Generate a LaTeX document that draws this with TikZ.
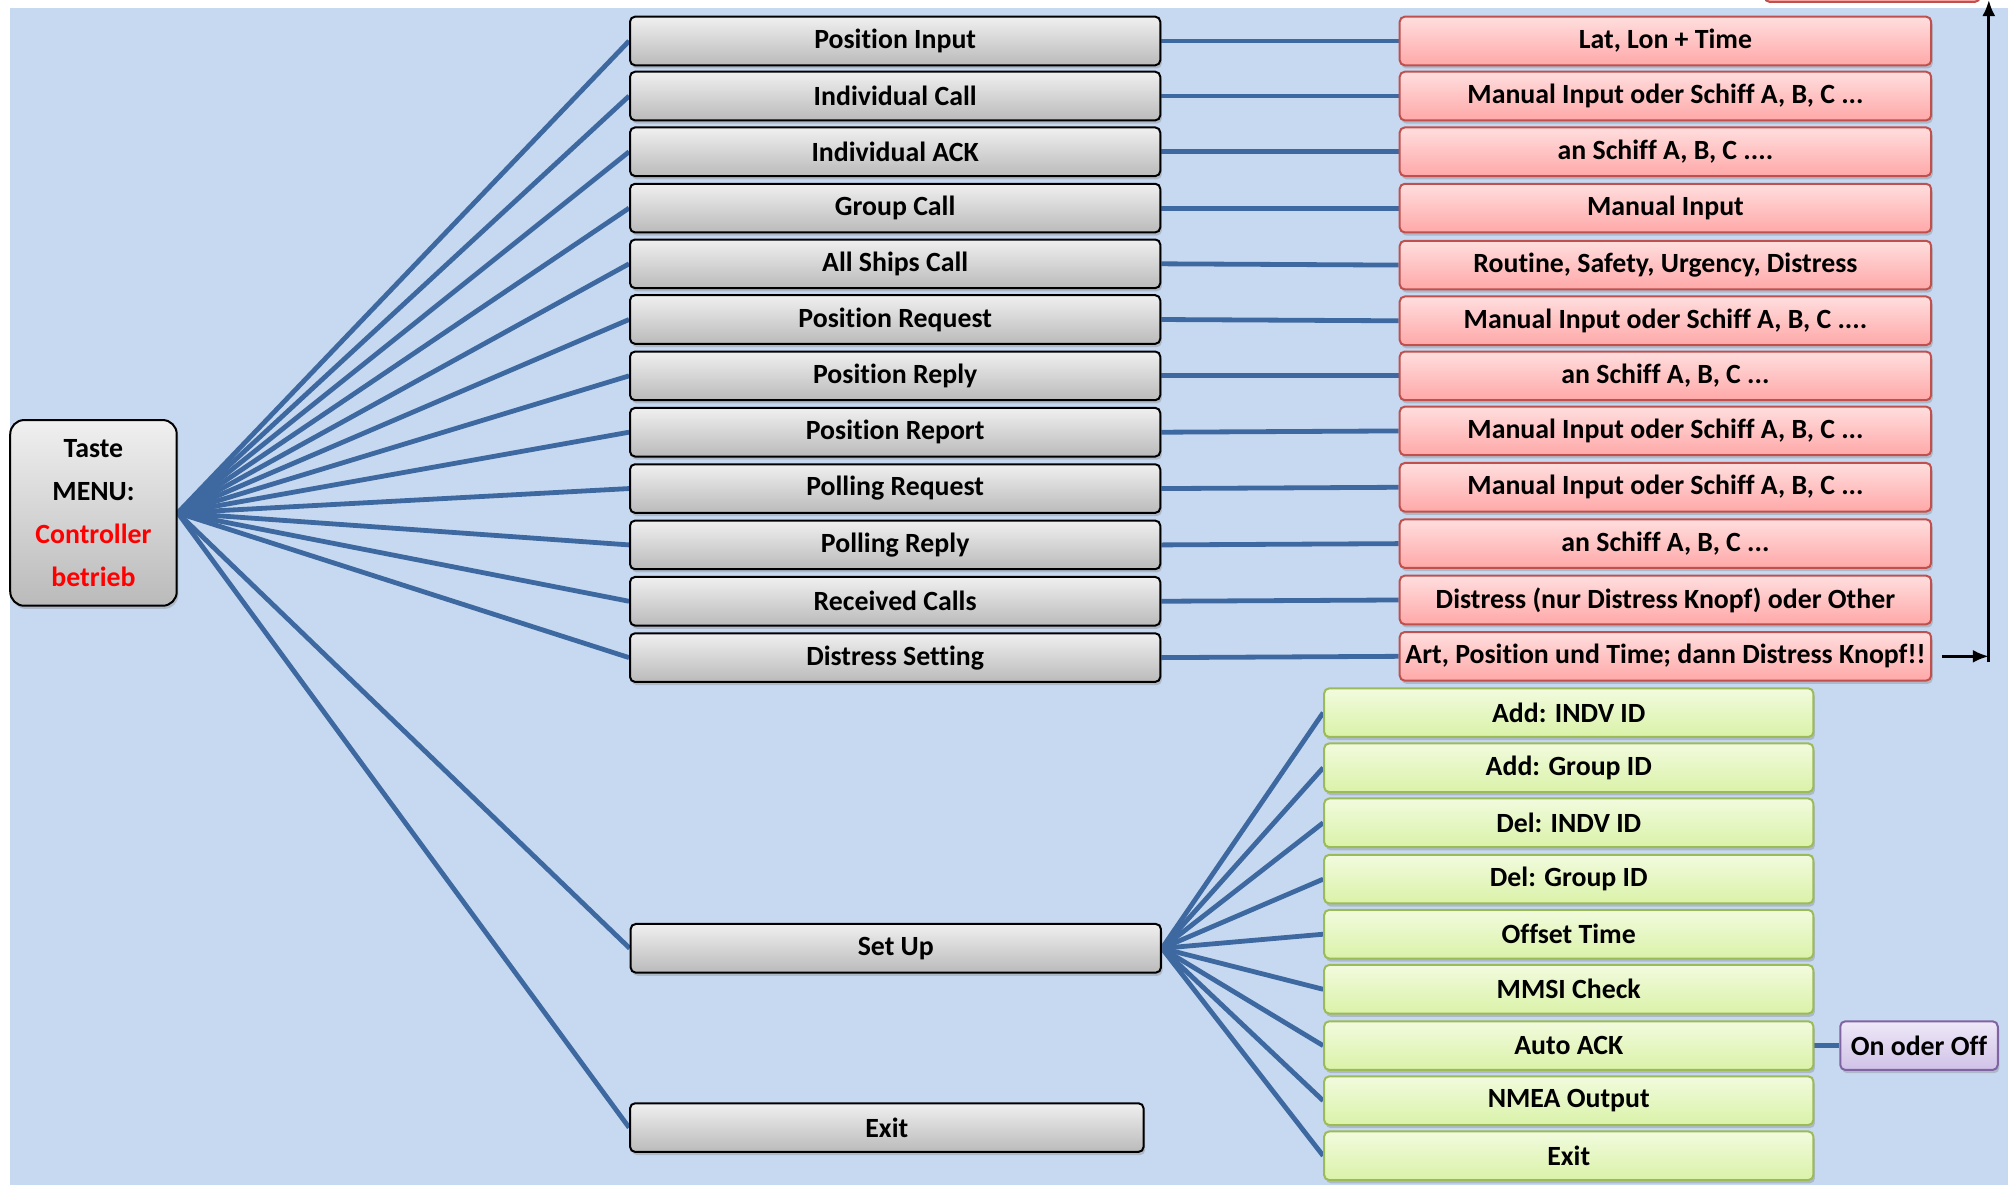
\documentclass[tikz,border=0pt]{standalone}
\usepackage{fontspec}
\setmainfont{Carlito}[Ligatures=NoCommon]
\usetikzlibrary{shadows,arrows.meta}
\definecolor{bgblue}{RGB}{198,217,241}
\definecolor{conn}{RGB}{62,104,160}
\definecolor{redborder}{RGB}{192,80,77}
\definecolor{greenborder}{RGB}{155,187,89}
\definecolor{purpleborder}{RGB}{128,100,162}
\pgfdeclarelayer{backfill}
\pgfdeclarelayer{lines}
\pgfsetlayers{backfill,lines,main}
\tikzset{
  basebox/.style={rounded corners=2.5pt, line width=1pt, inner sep=0pt,
    minimum height=24.3pt, align=center,
    font=\fontsize{13.9}{16}\selectfont\bfseries,
    drop shadow={shadow xshift=0.8pt, shadow yshift=-1.6pt, opacity=0.35}},
  graybox/.style={basebox, draw=black, top color=black!6, bottom color=black!27, minimum width=265pt},
  redbox/.style={basebox, draw=redborder, top color={rgb,255:red,255;green,222;blue,222}, bottom color={rgb,255:red,255;green,168;blue,168}, minimum width=265.6pt},
  greenbox/.style={basebox, draw=greenborder, top color={rgb,255:red,242;green,251;blue,222}, bottom color={rgb,255:red,218;green,242;blue,168}, minimum width=244.5pt},
  purplebox/.style={basebox, draw=purpleborder, top color={rgb,255:red,238;green,232;blue,247}, bottom color={rgb,255:red,208;green,194;blue,232}, minimum width=78.7pt},
  connline/.style={conn, line width=2.4pt},
  arrowline/.style={black, line width=1.4pt, -{Latex[length=8pt,width=6.5pt]}}
}
\begin{document}
\begin{tikzpicture}[x=0.64pt,y=-0.64pt]
\useasboundingbox (0,0) rectangle (1568,925);
\begin{pgfonlayer}{backfill}
  \fill[white] (0,0) rectangle (1568,925);
  \fill[bgblue] (8,6) rectangle (1568,925);
  \begin{scope}
    \clip (0,0) rectangle (1568,925);
    \path[draw=redborder, line width=1pt, fill={rgb,255:red,255;green,175;blue,175}, rounded corners=2.5pt] (1378,-40) rectangle (1546,1.5);
  \end{scope}
\end{pgfonlayer}

% root
\node[basebox, draw=black, top color=black!6, bottom color=black!27, rounded corners=7pt,
  minimum width=83.2pt, minimum height=92.8pt, align=center,
  font=\fontsize{13.9}{21.4}\selectfont\bfseries] (taste) at (73,400.5)
  {Taste\\MENU:\\\textcolor{red}{Controller}\\\textcolor{red}{betrieb}};

% first-level menu
\node[graybox] (g1) at (699,32) {Position Input};
\node[graybox] (g2) at (699,75) {Individual Call};
\node[graybox] (g3) at (699,118.5) {Individual ACK};
\node[graybox] (g4) at (699,162.5) {Group Call};
\node[graybox] (g5) at (699,206) {All Ships Call};
\node[graybox] (g6) at (699,249.5) {Position Request};
\node[graybox] (g7) at (699,293.5) {Position Reply};
\node[graybox] (g8) at (699,337.5) {Position Report};
\node[graybox] (g9) at (699,381.5) {Polling Request};
\node[graybox] (g10) at (699,425.5) {Polling Reply};
\node[graybox] (g11) at (699,469.5) {Received Calls};
\node[graybox] (g12) at (699,513.5) {Distress Setting};
\node[graybox] (setup) at (699.5,740.5) {Set Up};
\node[graybox, minimum width=256.6pt] (gexit) at (692.5,880.5) {Exit};

% second-level (red)
\node[redbox] (r1) at (1300.5,32) {Lat, Lon + Time};
\node[redbox] (r2) at (1300.5,75) {Manual Input oder Schiff A, B, C ...};
\node[redbox] (r3) at (1300.5,118.5) {an Schiff A, B, C ....};
\node[redbox] (r4) at (1300.5,162.5) {Manual Input};
\node[redbox] (r5) at (1300.5,207) {Routine, Safety, Urgency, Distress};
\node[redbox] (r6) at (1300.5,250.5) {Manual Input oder Schiff A, B, C ....};
\node[redbox] (r7) at (1300.5,293.5) {an Schiff A, B, C ...};
\node[redbox] (r8) at (1300.5,336.5) {Manual Input oder Schiff A, B, C ...};
\node[redbox] (r9) at (1300.5,380.5) {Manual Input oder Schiff A, B, C ...};
\node[redbox] (r10) at (1300.5,424.5) {an Schiff A, B, C ...};
\node[redbox] (r11) at (1300.5,468.5) {Distress (nur Distress Knopf) oder Other};
\node[redbox] (r12) at (1300.5,512.5) {Art, Position und Time; dann Distress Knopf!!};

% set up submenu (green)
\node[greenbox] (n1) at (1225,556.5) {Add: INDV ID};
\node[greenbox] (n2) at (1225,599.5) {Add: Group ID};
\node[greenbox] (n3) at (1225,642.5) {Del: INDV ID};
\node[greenbox] (n4) at (1225,686.5) {Del: Group ID};
\node[greenbox] (n5) at (1225,729.5) {Offset Time};
\node[greenbox] (n6) at (1225,772.5) {MMSI Check};
\node[greenbox] (n7) at (1225,816.5) {Auto ACK};
\node[greenbox] (n8) at (1225,859.5) {NMEA Output};
\node[greenbox] (n9) at (1225,902.5) {Exit};
\node[purplebox] (onoff) at (1498.5,816.5) {On oder Off};

% connectors
\begin{pgfonlayer}{lines}
  \foreach \k in {1,...,12} {
    \draw[connline] (taste.east) -- (g\k.west);
    \draw[connline] (g\k.east) -- (r\k.west);
  }
  \draw[connline] (taste.east) -- (setup.west);
  \draw[connline] (taste.east) -- (gexit.west);
  \foreach \k in {1,...,9} {
    \draw[connline] (setup.east) -- (n\k.west);
  }
  \draw[connline] (n7.east) -- (onoff.west);
\end{pgfonlayer}

% arrows at right
\coordinate (corner) at (1553,512.5);
\coordinate (topend) at (1553,0);
\draw[arrowline] ([xshift=5pt]r12.east) -- (corner);
\draw[arrowline] ([yshift=-3pt]corner) -- (topend);
\end{tikzpicture}
\end{document}
